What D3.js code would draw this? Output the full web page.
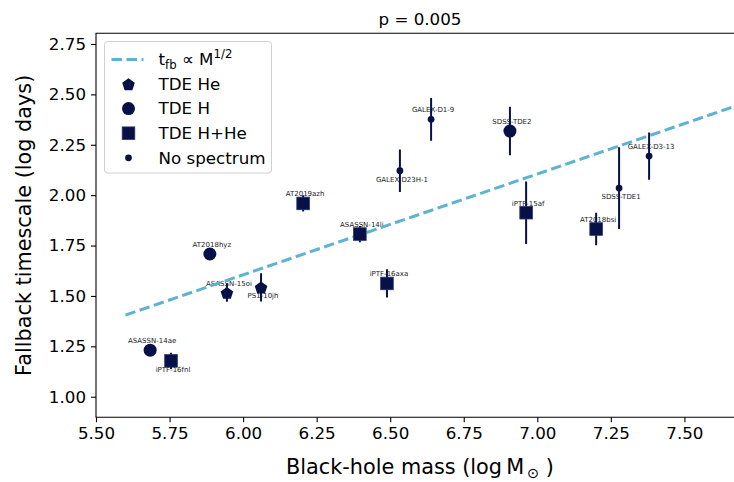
<!DOCTYPE html>
<html>
<head>
<meta charset="utf-8">
<script src="https://cdn.jsdelivr.net/npm/d3@7"></script>
<style>
  body { margin: 0; background: #fff; }
  svg { font-family: "DejaVu Sans", sans-serif; }
</style>
</head>
<body>
<div class="chart"></div>
<script>
// chart values
var names = ["ASASSN-14ae", "iPTF-16fnl", "AT2018hyz", "ASASSN-15oi", "PS1-10jh",
  "AT2019azh", "ASASSN-14li", "iPTF-16axa", "GALEX-D23H-1", "GALEX-D1-9",
  "SDSS-TDE2", "iPTF-15af", "AT2018bsi", "SDSS-TDE1", "GALEX-D3-13"];
var mass = [5.684, 5.755, 5.887, 5.945, 6.061, 6.204, 6.397, 6.489, 6.533, 6.639,
  6.907, 6.962, 7.200, 7.278, 7.380];
var tfb = [1.231, 1.178, 1.708, 1.516, 1.543, 1.959, 1.807, 1.562, 2.121, 2.376,
  2.318, 1.913, 1.832, 2.035, 2.194];
var tfbErr = [0.0, 0.04, 0.0, 0.045, 0.07, 0.04, 0.04, 0.07, 0.105, 0.106,
  0.12, 0.155, 0.081, 0.203, 0.117];
// spectral class: He, H, HHe, none
var kind = ["H", "HHe", "H", "He", "He", "HHe", "HHe", "HHe", "none", "none",
  "H", "HHe", "HHe", "none", "none"];
var labelSide = ["up", "down", "up", "up", "down", "up", "up", "up", "down", "up",
  "up", "up", "up", "down", "up"];

var xTicks = [5.50, 5.75, 6.00, 6.25, 6.50, 6.75, 7.00, 7.25, 7.50];
var yTicks = [1.00, 1.25, 1.50, 1.75, 2.00, 2.25, 2.50, 2.75];
var fitRange = [5.6, 7.9];
var fitSlope = 0.5, fitIntercept = -1.395;

var legendItems = ["He", "H", "HHe", "none"];
var legendText = ["TDE He", "TDE H", "TDE H+He", "No spectrum"];

var navy = "#081048", cyan = "#5db3d0";
var W = 734, H = 482;
var m = { left: 96, right: 744, top: 33.3, bottom: 417.3 };

var x = d3.scaleLinear().domain([5.5, 7.7026]).range([m.left, m.right]);
var y = d3.scaleLinear().domain([0.898, 2.803]).range([m.bottom, m.top]);

var svg = d3.select(".chart").append("svg")
  .attr("width", W)
  .attr("height", H);

svg.append("defs").append("clipPath").attr("id", "clip")
  .append("rect")
  .attr("x", m.left).attr("y", m.top)
  .attr("width", m.right - m.left).attr("height", m.bottom - m.top);

function pentagon(r) {
  var pts = d3.range(5).map(i => {
    var a = -Math.PI / 2 + i * 2 * Math.PI / 5;
    return [r * Math.cos(a), r * Math.sin(a)];
  });
  return "M" + pts.map(p => p.join(",")).join("L") + "Z";
}

function drawMarker(g, k) {
  if (k === "He") {
    g.append("path").attr("d", pentagon(6.6)).attr("transform", "translate(0,0.8)").attr("fill", navy);
  } else if (k === "H") {
    g.append("circle").attr("r", 6.5).attr("fill", navy);
  } else if (k === "HHe") {
    g.append("rect").attr("x", -6.3).attr("y", -6.3).attr("width", 12.6).attr("height", 12.6)
      .attr("fill", navy).attr("stroke", "#2a3570").attr("stroke-width", 0.8);
  } else {
    g.append("circle").attr("r", 3.4).attr("fill", navy);
  }
}

var idx = d3.range(names.length);
var plot = svg.append("g").attr("clip-path", "url(#clip)");

// labels sit under everything else
plot.selectAll("text.name")
  .data(idx)
  .enter()
  .append("text")
  .attr("class", "name")
  .attr("x", i => x(mass[i]) + 2)
  .attr("y", i => y(tfb[i]) + (labelSide[i] === "up" ? -9.5 : 8.5))
  .attr("dy", "0.35em")
  .attr("text-anchor", "middle")
  .attr("font-size", 7)
  .attr("fill", "#222")
  .text(i => names[i]);

// fallback scaling line
plot.append("line")
  .attr("x1", x(fitRange[0]))
  .attr("y1", y(fitSlope * fitRange[0] + fitIntercept))
  .attr("x2", x(fitRange[1]))
  .attr("y2", y(fitSlope * fitRange[1] + fitIntercept))
  .attr("stroke", cyan)
  .attr("stroke-width", 3)
  .attr("stroke-dasharray", "10.5,4.5");

// error bars
plot.selectAll("line.err")
  .data(idx.filter(i => tfbErr[i] > 0))
  .enter()
  .append("line")
  .attr("class", "err")
  .attr("x1", i => x(mass[i]))
  .attr("x2", i => x(mass[i]))
  .attr("y1", i => y(tfb[i] - tfbErr[i]))
  .attr("y2", i => y(tfb[i] + tfbErr[i]))
  .attr("stroke", navy)
  .attr("stroke-width", 2);

plot.selectAll("g.pt")
  .data(idx)
  .enter()
  .append("g")
  .attr("class", "pt")
  .attr("transform", i => `translate(${x(mass[i])},${y(tfb[i])})`)
  .each(function(i) { drawMarker(d3.select(this), kind[i]); });

// axes
var xAxis = svg.append("g")
  .attr("transform", `translate(0,${m.bottom})`)
  .call(d3.axisBottom(x).tickValues(xTicks).tickFormat(d3.format(".2f")).tickSize(5).tickPadding(5));
var yAxis = svg.append("g")
  .attr("transform", `translate(${m.left},0)`)
  .call(d3.axisLeft(y).tickValues(yTicks).tickFormat(d3.format(".2f")).tickSize(5).tickPadding(5));

[xAxis, yAxis].forEach(a => {
  a.select(".domain").remove();
  a.selectAll("text").attr("font-size", 16.7).attr("fill", "#000")
    .attr("font-family", "DejaVu Sans");
  a.selectAll("line").attr("stroke", "#000").attr("stroke-width", 1.1);
});

// spines (right one falls outside the picture)
svg.append("path")
  .attr("d", `M${m.right},${m.top}H${m.left}V${m.bottom}H${m.right}`)
  .attr("fill", "none")
  .attr("stroke", "#000")
  .attr("stroke-width", 1.1);

// title and axis labels
svg.append("text")
  .attr("x", (m.left + m.right) / 2).attr("y", 25)
  .attr("text-anchor", "middle")
  .attr("font-size", 16.7)
  .text("p = 0.005");

var xl = svg.append("text")
  .attr("x", (m.left + m.right) / 2).attr("y", 474)
  .attr("text-anchor", "middle")
  .attr("font-size", 20.8);
xl.append("tspan").text("Black-hole mass (log\u2009M");
xl.append("tspan").attr("font-size", 14.5).attr("dy", 4).attr("dx", 3).text("\u2299");
xl.append("tspan").attr("dy", -4).text(" )");

svg.append("text")
  .attr("transform", `translate(31,${(m.top + m.bottom) / 2}) rotate(-90)`)
  .attr("text-anchor", "middle")
  .attr("font-size", 20.8)
  .text("Fallback timescale (log days)");

// legend
var lg = svg.append("g").attr("transform", "translate(104.5,41.5)");
lg.append("rect")
  .attr("width", 167).attr("height", 131.5)
  .attr("rx", 3)
  .attr("fill", "#fff").attr("fill-opacity", 0.8)
  .attr("stroke", "#d0d0d0").attr("stroke-width", 1);

lg.append("line")
  .attr("x1", 7).attr("x2", 39).attr("y1", 18).attr("y2", 18)
  .attr("stroke", cyan).attr("stroke-width", 3)
  .attr("stroke-dasharray", "10.5,4.5");
var lt = lg.append("text").attr("x", 54).attr("y", 18).attr("dy", "0.35em").attr("font-size", 16.7);
lt.append("tspan").text("t");
lt.append("tspan").attr("font-size", 11.7).attr("dy", 4).text("fb");
lt.append("tspan").attr("dy", -4).text(" \u221d M");
lt.append("tspan").attr("font-size", 11.7).attr("dy", -7).text("1/2");

var rows = lg.selectAll("g.row")
  .data(legendItems)
  .enter()
  .append("g")
  .attr("class", "row")
  .attr("transform", (d, i) => `translate(24,${42.5 + i * 24.6})`);
rows.each(function(d) { drawMarker(d3.select(this), d); });
rows.append("text")
  .attr("x", 30)
  .attr("dy", "0.35em")
  .attr("font-size", 16.7)
  .text((d, i) => legendText[i]);
</script>
</body>
</html>
